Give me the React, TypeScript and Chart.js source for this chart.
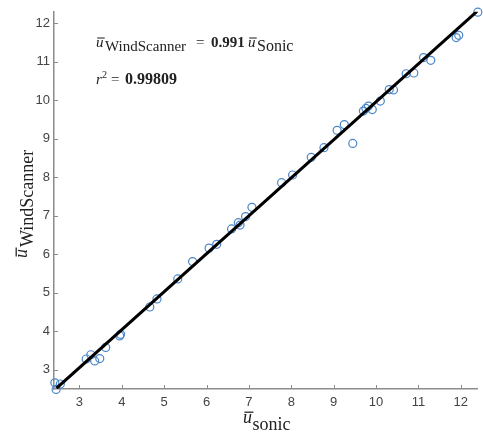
import React, { useEffect, useRef } from "react";
import { Chart, registerables } from "chart.js";

Chart.register(...registerables);

// Scatter values (x = sonic, y = WindScanner)
const SONIC = [
  2.42, 2.45, 2.55, 3.16, 3.27, 3.36, 3.48, 3.62, 3.95, 3.97,
  4.66, 4.83, 5.32, 5.67, 6.06, 6.24, 6.59, 6.75, 6.79, 6.92,
  7.07, 7.77, 8.03, 8.47, 8.77, 9.08, 9.25, 9.45, 9.70, 9.76,
  9.82, 9.91, 10.10, 10.31, 10.41, 10.71, 10.89, 11.12, 11.29, 11.89,
  11.95, 12.40,
];
const WINDSCANNER = [
  2.66, 2.49, 2.63, 3.28, 3.39, 3.23, 3.29, 3.58, 3.88, 3.92,
  4.63, 4.84, 5.36, 5.81, 6.16, 6.26, 6.66, 6.82, 6.76, 6.98,
  7.22, 7.86, 8.06, 8.52, 8.77, 9.22, 9.37, 8.88, 9.72, 9.79,
  9.85, 9.76, 9.98, 10.28, 10.27, 10.69, 10.71, 11.11, 11.04, 11.63,
  11.69, 12.29,
];
// Fitted line end points
const FIT_X = [2.46, 12.4];
const FIT_Y = [2.52, 12.33];

const X_TICKS = [3, 4, 5, 6, 7, 8, 9, 10, 11, 12];
const Y_TICKS = [3, 4, 5, 6, 7, 8, 9, 10, 11, 12];
const X_RANGE = [2.4, 12.4];
const Y_RANGE = [2.5, 12.3];

const SLOPE_TEXT = "0.991";
const R2_TEXT = "0.99809";
const Y_SUB = "WindScanner";
const X_SUB = "sonic";
const ANNOT_SUB_1 = "WindScanner";
const ANNOT_SUB_2 = "Sonic";

const SERIF = '"Liberation Serif", "DejaVu Serif", serif';
const SANS = '"Liberation Sans", Arial, sans-serif';
const TEXT_COLOR = "#222";
const AXIS_COLOR = "#8c8c8c";

function drawUbar(ctx: CanvasRenderingContext2D, x0: number, base: number, size: number) {
  ctx.font = `italic ${size}px ${SERIF}`;
  ctx.textAlign = "left";
  ctx.textBaseline = "alphabetic";
  ctx.fillText("u", x0, base);
  const w = ctx.measureText("u").width;
  const oy = base - size * 0.6;
  ctx.lineWidth = Math.max(1, size * 0.07);
  ctx.beginPath();
  ctx.moveTo(x0 + size * 0.08, oy);
  ctx.lineTo(x0 + w + size * 0.08, oy);
  ctx.stroke();
  return w;
}

const decorPlugin = {
  id: "decor",
  afterDraw(chart: any) {
    const ctx: CanvasRenderingContext2D = chart.ctx;
    const xs = chart.scales.x;
    const ys = chart.scales.y;
    const area = chart.chartArea;
    ctx.save();
    // inward tick marks
    ctx.strokeStyle = AXIS_COLOR;
    ctx.lineWidth = 1;
    X_TICKS.forEach((v) => {
      const px = Math.round(xs.getPixelForValue(v)) + 0.5;
      ctx.beginPath();
      ctx.moveTo(px, area.bottom);
      ctx.lineTo(px, area.bottom - 4);
      ctx.stroke();
    });
    Y_TICKS.forEach((v) => {
      const py = Math.round(ys.getPixelForValue(v)) + 0.5;
      ctx.beginPath();
      ctx.moveTo(area.left, py);
      ctx.lineTo(area.left + 4, py);
      ctx.stroke();
    });

    ctx.fillStyle = TEXT_COLOR;
    ctx.strokeStyle = TEXT_COLOR;

    // x axis title
    const uw = drawUbar(ctx, 243, 423, 18);
    ctx.font = `18px ${SERIF}`;
    ctx.fillText(X_SUB, 243 + uw + 0.5, 430);

    // y axis title (rotated)
    ctx.save();
    ctx.translate(27, 258);
    ctx.rotate(-Math.PI / 2);
    const uw2 = drawUbar(ctx, 0, 0, 18);
    ctx.font = `18px ${SERIF}`;
    ctx.fillText(Y_SUB, uw2 + 2, 6);
    ctx.restore();

    // annotation line 1
    const uw3 = drawUbar(ctx, 96, 47, 15);
    ctx.font = `15px ${SERIF}`;
    ctx.fillText(ANNOT_SUB_1, 96 + uw3 + 1.5, 51);
    ctx.font = `15px ${SERIF}`;
    ctx.fillText("=", 196, 47);
    ctx.font = `bold 15px ${SERIF}`;
    ctx.fillText(SLOPE_TEXT, 211, 47);
    const uw4 = drawUbar(ctx, 248, 47, 15);
    ctx.font = `16px ${SERIF}`;
    ctx.fillText(ANNOT_SUB_2, 248 + uw4 + 1.5, 51);

    // annotation line 2
    ctx.font = `italic 15px ${SERIF}`;
    ctx.fillText("r", 96, 84);
    ctx.font = `10px ${SERIF}`;
    ctx.fillText("2", 102, 78);
    ctx.font = `15px ${SERIF}`;
    ctx.fillText("=", 111, 84);
    ctx.font = `bold 16px ${SERIF}`;
    ctx.fillText(R2_TEXT, 125, 84);

    ctx.restore();
  },
};

export default function App() {
  const ref = useRef<HTMLCanvasElement | null>(null);
  useEffect(() => {
    if (!ref.current) return;
    const points = SONIC.map((x, i) => ({ x, y: WINDSCANNER[i] }));
    const fit = FIT_X.map((x, i) => ({ x, y: FIT_Y[i] }));
    const chart = new Chart(ref.current, {
      type: "scatter",
      data: {
        datasets: [
          {
            label: "fit",
            data: fit,
            showLine: true,
            borderColor: "#000",
            borderWidth: 3,
            pointRadius: 0,
            order: 0,
          } as any,
          {
            label: "data",
            data: points,
            borderColor: "#4a86c8",
            backgroundColor: "rgba(0,0,0,0)",
            borderWidth: 1.2,
            pointRadius: 4,
            clip: false,
            order: 1,
          } as any,
        ],
      },
      options: {
        responsive: false,
        animation: false,
        devicePixelRatio: 1,
        layout: { padding: { top: 11, right: 0, left: 0, bottom: 0 } },
        plugins: { legend: { display: false }, tooltip: { enabled: false } },
        scales: {
          x: {
            type: "linear",
            min: X_RANGE[0],
            max: X_RANGE[1],
            afterBuildTicks: (s: any) => {
              s.ticks = X_TICKS.map((v) => ({ value: v }));
            },
            afterFit: (s: any) => {
              s.height = 44;
            },
            grid: { display: true, drawOnChartArea: false, drawTicks: false },
            border: { display: true, color: AXIS_COLOR, width: 1.5 },
            ticks: {
              padding: 6,
              color: "#444",
              font: { family: SANS, size: 13 },
              maxRotation: 0,
              autoSkip: false,
            },
          },
          y: {
            type: "linear",
            min: Y_RANGE[0],
            max: Y_RANGE[1],
            afterBuildTicks: (s: any) => {
              s.ticks = Y_TICKS.map((v) => ({ value: v }));
            },
            afterFit: (s: any) => {
              s.width = 54;
            },
            grid: { display: true, drawOnChartArea: false, drawTicks: false },
            border: { display: true, color: AXIS_COLOR, width: 1.5 },
            ticks: {
              padding: 4,
              color: "#444",
              font: { family: SANS, size: 13 },
              autoSkip: false,
            },
          },
        },
      } as any,
      plugins: [decorPlugin],
    });
    return () => chart.destroy();
  }, []);
  return (
    <div style={{ position: "fixed", left: 0, top: 0, width: 483, height: 433, background: "#fff" }}>
      <canvas ref={ref} width={483} height={433} style={{ width: 483, height: 433, display: "block" }} />
    </div>
  );
}
